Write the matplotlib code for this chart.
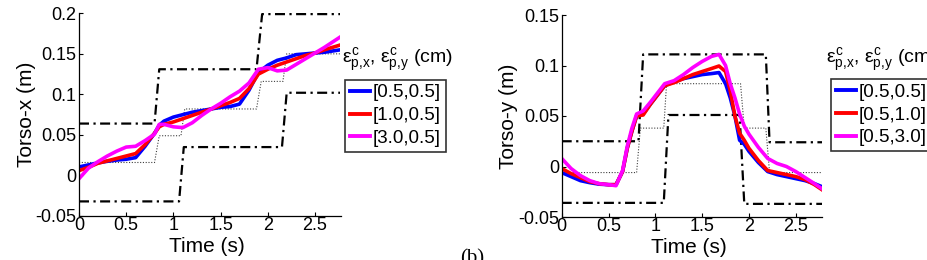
import matplotlib
matplotlib.use("Agg")
import matplotlib.pyplot as plt

plt.rcParams['font.family'] = ['Liberation Sans', 'DejaVu Sans']
plt.rcParams['mathtext.fontset'] = 'custom'
plt.rcParams['mathtext.rm'] = 'Liberation Sans'
plt.rcParams['mathtext.it'] = 'Liberation Sans'
plt.rcParams['mathtext.bf'] = 'Liberation Sans:bold'

# ---------------- data: Torso-x ----------------
tx = [0, 0.1, 0.2, 0.3, 0.4, 0.5, 0.6, 0.7, 0.8, 0.85, 0.9, 1.0, 1.1, 1.2, 1.3,
      1.4, 1.5, 1.6, 1.7, 1.8, 1.9, 2.0, 2.1, 2.2, 2.3, 2.4, 2.5, 2.6, 2.77]
x_blue = [0.0105, 0.013, 0.0155, 0.0175, 0.019, 0.020, 0.022, 0.036, 0.052, 0.062,
          0.067, 0.072, 0.075, 0.078, 0.080, 0.082, 0.084, 0.085, 0.088, 0.105,
          0.127, 0.136, 0.142, 0.145, 0.149, 0.150, 0.151, 0.152, 0.155]
x_red = [0.006, 0.010, 0.015, 0.018, 0.021, 0.024, 0.027, 0.038, 0.052, 0.060,
         0.063, 0.066, 0.070, 0.074, 0.078, 0.082, 0.086, 0.090, 0.095, 0.107,
         0.125, 0.131, 0.136, 0.140, 0.144, 0.148, 0.151, 0.155, 0.161]
x_mag = [-0.004, 0.009, 0.017, 0.024, 0.030, 0.035, 0.036, 0.043, 0.051, 0.063,
         0.063, 0.060, 0.059, 0.065, 0.074, 0.082, 0.089, 0.097, 0.104, 0.114,
         0.131, 0.133, 0.129, 0.130, 0.137, 0.144, 0.151, 0.158, 0.171]
x_up_t = [0, 0.80, 0.85, 1.88, 1.94, 2.77]
x_up_v = [0.064, 0.064, 0.131, 0.131, 0.199, 0.199]
x_lo_t = [0, 1.06, 1.11, 2.15, 2.20, 2.77]
x_lo_v = [-0.032, -0.032, 0.035, 0.035, 0.102, 0.102]
x_ref_t = [0, 0.80, 0.85, 1.08, 1.12, 1.88, 1.93, 2.16, 2.20, 2.77]
x_ref_v = [0.016, 0.016, 0.049, 0.049, 0.082, 0.082, 0.116, 0.116, 0.150, 0.150]
x_labels = ['[0.5,0.5]', '[1.0,0.5]', '[3.0,0.5]']

# ---------------- data: Torso-y ----------------
ty = [0, 0.1, 0.2, 0.3, 0.4, 0.5, 0.58, 0.65, 0.7, 0.75, 0.8, 0.87, 0.95, 1.0,
      1.1, 1.2, 1.3, 1.4, 1.5, 1.6, 1.68, 1.75, 1.8, 1.85, 1.9, 1.95, 2.0, 2.1,
      2.2, 2.3, 2.4, 2.5, 2.6, 2.7, 2.78]
y_blue = [-0.006, -0.010, -0.014, -0.016, -0.0175, -0.018, -0.018, -0.005, 0.018,
          0.035, 0.050, 0.052, 0.062, 0.068, 0.080, 0.084, 0.087, 0.089, 0.091,
          0.092, 0.093, 0.082, 0.068, 0.050, 0.026, 0.022, 0.015, 0.004, -0.005,
          -0.008, -0.010, -0.012, -0.014, -0.017, -0.020]
y_red = [-0.002, -0.007, -0.011, -0.015, -0.017, -0.018, -0.018, -0.005, 0.018,
         0.035, 0.050, 0.051, 0.062, 0.068, 0.080, 0.083, 0.087, 0.091, 0.094,
         0.097, 0.0995, 0.094, 0.075, 0.050, 0.033, 0.026, 0.018, 0.006, -0.004,
         -0.006, -0.008, -0.010, -0.013, -0.018, -0.023]
y_mag = [0.008, -0.002, -0.009, -0.014, -0.017, -0.018, -0.019, -0.004, 0.020,
         0.038, 0.052, 0.055, 0.064, 0.070, 0.082, 0.085, 0.091, 0.098, 0.104,
         0.109, 0.111, 0.100, 0.082, 0.068, 0.052, 0.040, 0.032, 0.019, 0.008,
         0.003, 0.000, -0.005, -0.011, -0.017, -0.022]
y_up_t = [0, 0.82, 0.87, 2.18, 2.22, 2.78]
y_up_v = [0.025, 0.025, 0.111, 0.111, 0.024, 0.024]
y_lo_t = [0, 1.09, 1.14, 1.90, 1.95, 2.78]
y_lo_v = [-0.036, -0.036, 0.051, 0.051, -0.037, -0.037]
y_ref_t = [0, 0.80, 0.84, 1.09, 1.12, 1.91, 1.95, 2.18, 2.22, 2.78]
y_ref_v = [-0.006, -0.006, 0.038, 0.038, 0.082, 0.082, 0.038, 0.038, -0.006, -0.006]
y_labels = ['[0.5,0.5]', '[0.5,1.0]', '[0.5,3.0]']

xticks = [0, 0.5, 1, 1.5, 2, 2.5]
xticklabels = ['0', '0.5', '1', '1.5', '2', '2.5']
yticks_x = [-0.05, 0, 0.05, 0.1, 0.15, 0.2]
yticklabels_x = ['-0.05', '0', '0.05', '0.1', '0.15', '0.2']
yticks_y = [-0.05, 0, 0.05, 0.1, 0.15]
yticklabels_y = ['-0.05', '0', '0.05', '0.1', '0.15']

colors = ['#0000ff', '#ff0000', '#ff00ff']
W, H = 928, 260
fig = plt.figure(figsize=(W / 100, H / 100), dpi=100)

legend_title = r'$\varepsilon^{c}_{p{,}x}$, $\varepsilon^{c}_{p{,}y}$ (cm)'


def make_panel(rect, t, curves, labels, up_t, up_v, lo_t, lo_v, ref_t, ref_v,
               ylim, xlim, yticks, yticklabels, ylabel, ylab_x, leg_xy, title_xy):
    ax = fig.add_axes(rect)
    ax.plot(ref_t, ref_v, color='0.25', lw=0.8, ls=(0, (1, 1.5)))
    for tt, vv in ((up_t, up_v), (lo_t, lo_v)):
        ln, = ax.plot(tt, vv, color='black', lw=1.6)
        ln.set_dashes([4.5, 2.0, 1.0, 2.0])
    handles = []
    for c, v, lab in zip(colors, curves, labels):
        ln, = ax.plot(t, v, color=c, lw=2.6, label=lab, solid_joinstyle='round')
        handles.append(ln)
    ax.set_xlim(*xlim)
    ax.set_ylim(*ylim)
    ax.set_xticks(xticks)
    ax.set_xticklabels(xticklabels)
    ax.set_yticks(yticks)
    ax.set_yticklabels(yticklabels)
    for s in ('top', 'right'):
        ax.spines[s].set_visible(False)
    for s in ('left', 'bottom'):
        ax.spines[s].set_linewidth(0.9)
    ax.tick_params(direction='in', length=3, width=0.8, labelsize=13)
    ax.tick_params(axis='x', pad=1)
    ax.tick_params(axis='y', pad=2)
    ax.set_xlabel('Time (s)', fontsize=15)
    ax.set_ylabel(ylabel, fontsize=15)
    ax.xaxis.set_label_coords(0.49, -0.105)
    ax.yaxis.set_label_coords(ylab_x, 0.5)
    leg = fig.legend(handles=handles, loc='upper left', bbox_to_anchor=leg_xy,
                     bbox_transform=fig.transFigure, fontsize=13.5,
                     frameon=True, fancybox=False, edgecolor='black',
                     handlelength=1.1, handletextpad=0.15, borderpad=0.25,
                     labelspacing=0.3, borderaxespad=0)
    leg.get_frame().set_linewidth(1.2)
    for l in leg.get_lines():
        l.set_linewidth(2.8)
    fig.text(title_xy[0], title_xy[1], legend_title, fontsize=14, va='baseline')
    return ax


make_panel([79 / W, 44 / H, 261.5 / W, 202.7 / H], tx, [x_blue, x_red, x_mag], x_labels,
           x_up_t, x_up_v, x_lo_t, x_lo_v, x_ref_t, x_ref_v,
           (-0.05, 0.2), (0, 2.77), yticks_x, yticklabels_x, 'Torso-x (m)', -0.165,
           (345 / W, 1 - 79.5 / H), (342 / W, 1 - 63 / H))
make_panel([561.7 / W, 43 / H, 260.3 / W, 202 / H], ty, [y_blue, y_red, y_mag], y_labels,
           y_up_t, y_up_v, y_lo_t, y_lo_v, y_ref_t, y_ref_v,
           (-0.05, 0.15), (0, 2.78), yticks_y, yticklabels_y, 'Torso-y (m)', -0.168,
           (831 / W, 1 - 79 / H), (826 / W, 1 - 63 / H))

fig.text(472 / W, -3 / H, '(b)', family=['Liberation Serif', 'DejaVu Serif'],
         fontsize=15, ha='center', va='baseline')

fig.savefig('out.png', dpi=100)
